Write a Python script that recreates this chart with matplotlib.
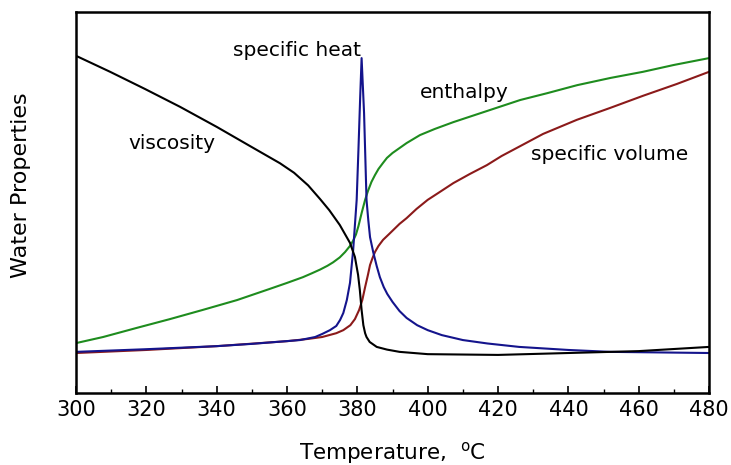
import matplotlib
matplotlib.use('Agg')
import matplotlib.pyplot as plt
from matplotlib.ticker import MultipleLocator

### Data (relative units)

visc_T = [300, 309.7, 319.6, 329.6, 340.1, 349.5, 358, 362, 366, 369.4, 372,
          375, 377.9, 379.3, 380.2, 380.7, 381.2, 381.7, 382.2, 382.6, 383.5,
          385.5, 388.4, 392, 400, 420, 440, 460, 480]
visc_v = [0.885, 0.843, 0.798, 0.751, 0.698, 0.648, 0.603, 0.578, 0.545,
          0.509, 0.480, 0.441, 0.394, 0.357, 0.310, 0.270, 0.218, 0.178,
          0.157, 0.147, 0.134, 0.121, 0.114, 0.108, 0.102, 0.100, 0.105,
          0.110, 0.121]

cp_T = [300, 320, 340, 350, 363.7, 368, 370, 372.2, 374, 375.1, 376, 377,
        377.9, 378.8, 379.8, 380.3, 380.8, 381.2, 381.9, 382.2, 382.6, 383.1,
        383.6, 384.5, 385.5, 386.4, 387.5, 388.5, 390, 392, 394, 397, 400,
        404, 410, 417, 426, 440, 452, 480]
cp_v = [0.108, 0.115, 0.123, 0.129, 0.139, 0.147, 0.155, 0.165, 0.176, 0.192,
        0.210, 0.244, 0.289, 0.375, 0.507, 0.638, 0.777, 0.879, 0.735, 0.638,
        0.507, 0.454, 0.409, 0.370, 0.333, 0.304, 0.278, 0.260, 0.239, 0.215,
        0.197, 0.178, 0.165, 0.152, 0.139, 0.130, 0.121, 0.113, 0.108, 0.105]

enth_T = [300, 307.7, 317.3, 326.7, 336, 345.8, 355, 360, 364.5, 367, 369.4,
          371.5, 373.1, 375, 376.5, 377.9, 378.8, 379.6, 380.3, 381.2, 382.2,
          383, 384, 385, 386, 387.3, 388.4, 390, 392, 394, 397.8, 402, 407.3,
          416.8, 426.3, 434, 442.5, 452, 461.2, 470, 480]
enth_v = [0.131, 0.147, 0.171, 0.194, 0.218, 0.244, 0.273, 0.289, 0.304,
          0.314, 0.324, 0.334, 0.343, 0.356, 0.370, 0.386, 0.400, 0.416,
          0.438, 0.472, 0.507, 0.530, 0.554, 0.572, 0.588, 0.604, 0.617,
          0.630, 0.643, 0.656, 0.677, 0.693, 0.711, 0.740, 0.769, 0.787,
          0.808, 0.827, 0.843, 0.861, 0.879]

vol_T = [300, 320, 340, 360, 366, 370, 374, 376, 378, 379.3, 380.5, 381.4,
         382.2, 383, 383.6, 384.3, 385, 386, 387.3, 389, 392, 394, 396.8, 400,
         403, 407.3, 412, 416.8, 421, 426.3, 432.8, 442.4, 451.8, 461.2,
         470.8, 480]
vol_v = [0.105, 0.113, 0.123, 0.136, 0.142, 0.147, 0.157, 0.165, 0.178, 0.194,
         0.218, 0.244, 0.278, 0.310, 0.336, 0.354, 0.370, 0.386, 0.402, 0.417,
         0.444, 0.459, 0.483, 0.507, 0.525, 0.551, 0.575, 0.598, 0.622, 0.648,
         0.680, 0.717, 0.748, 0.780, 0.811, 0.843]

labels = ['viscosity', 'specific heat', 'enthalpy', 'specific volume']
label_T = [327.3, 362.8, 410.3, 451.8]
label_v = [0.656, 0.900, 0.790, 0.625]

### Figure

fig = plt.figure(figsize=(7.31, 4.65), dpi=100)
ax = fig.add_axes([0.104, 0.1548, 0.866, 0.8194])

ax.plot(enth_T, enth_v, color='#1e8c1e', lw=1.5)
ax.plot(vol_T, vol_v, color='#8b1a1a', lw=1.5)
ax.plot(cp_T, cp_v, color='#14148c', lw=1.5)
ax.plot(visc_T, visc_v, color='black', lw=1.5)

for s, t, v in zip(labels, label_T, label_v):
    ax.text(t, v, s, ha='center', va='center', fontsize=14.5, color='black')

ax.set_xlim(300, 480)
ax.set_ylim(0, 1)

ax.xaxis.set_major_locator(MultipleLocator(20))
ax.xaxis.set_minor_locator(MultipleLocator(10))
ax.tick_params('x', which='major', direction='in', length=5, width=1.2,
               labelsize=15, pad=5)
ax.tick_params('x', which='minor', direction='in', length=3, width=1.0)
ax.set_yticks([])

for sp in ax.spines.values():
    sp.set_linewidth(1.8)

ax.set_xlabel(r'Temperature,  $^{\mathrm{o}}$C', fontsize=15.5)
ax.set_ylabel('Water Properties', fontsize=16)
ax.xaxis.set_label_coords(0.5, -0.122)
ax.yaxis.set_label_coords(-0.071, 0.546)

fig.savefig('out.png', dpi=100)
plt.close(fig)
